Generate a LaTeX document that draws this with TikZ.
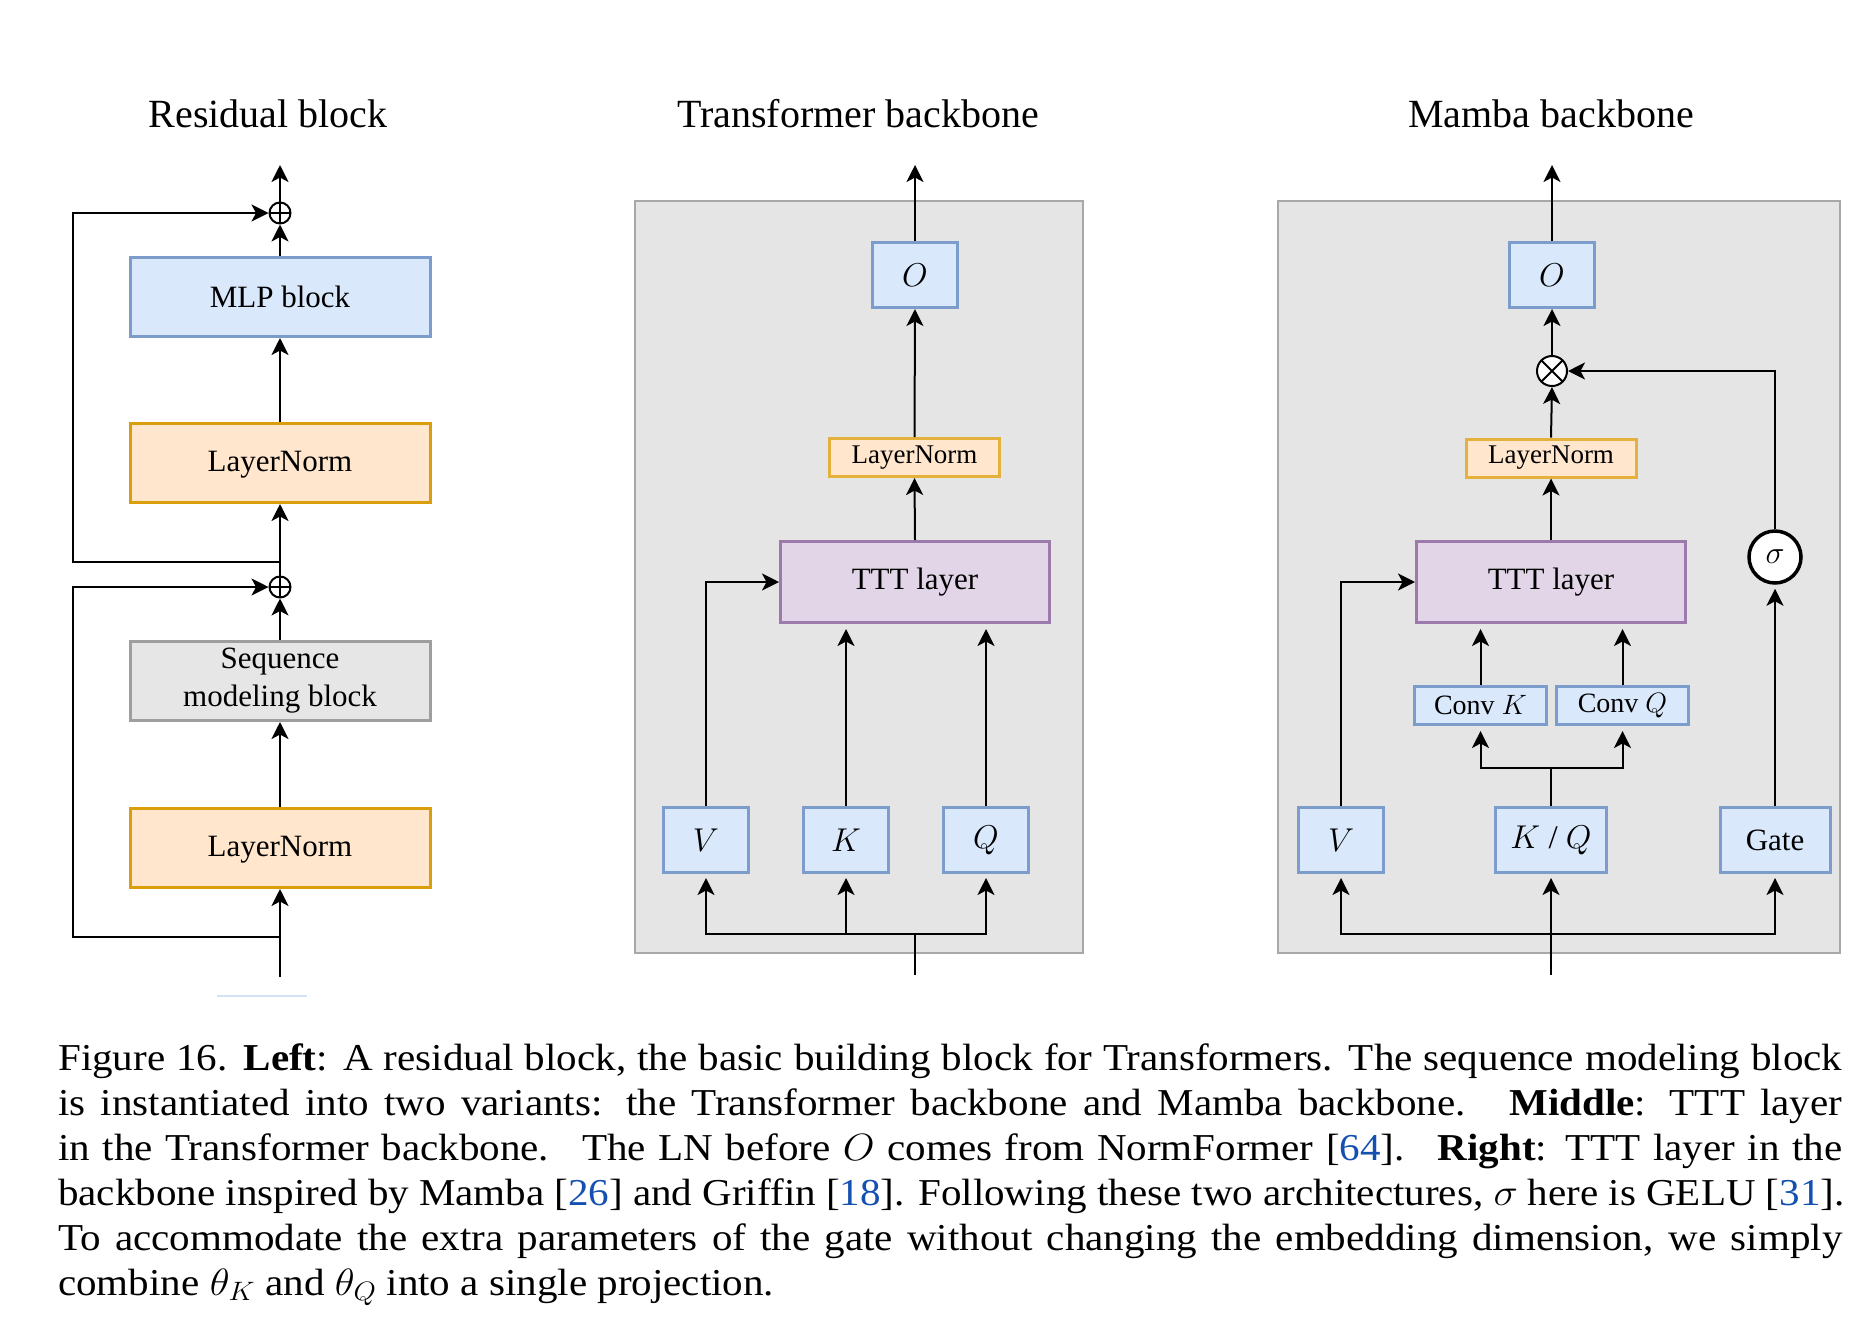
\RequirePackage{fix-cm}
\documentclass[tikz,border=0pt]{standalone}
\usepackage{fontspec}
\setmainfont{Liberation Serif}
\usetikzlibrary{arrows.meta,positioning,calc}
\definecolor{blueF}{HTML}{DAE8FC}
\definecolor{blueD}{HTML}{7C9CCB}
\definecolor{orangeF}{HTML}{FFE6CC}
\definecolor{orangeD}{HTML}{D99E0A}
\definecolor{orangeS}{HTML}{E4B23C}
\definecolor{purpleF}{HTML}{E1D5E7}
\definecolor{purpleD}{HTML}{9C7AAC}
\definecolor{seqF}{HTML}{E6E6E6}
\definecolor{seqD}{HTML}{9E9E9E}
\definecolor{panelF}{HTML}{E5E5E5}
\definecolor{panelD}{HTML}{A8A8A8}
\definecolor{linkblue}{RGB}{20,80,175}
\definecolor{faintblue}{HTML}{D4E0F4}
\newcommand{\fs}[1]{\fontsize{#1}{#1}\selectfont}
\newcommand{\cit}[1]{[\textcolor{linkblue}{#1}]}
\newcommand{\capl}[1]{\scalebox{1.08}[1]{\hbox to 1652pt{#1}}}
\tikzset{
  box/.style={draw, line width=3pt, inner sep=0pt, align=center, font=\fs{31}},
  bluebox/.style={box, draw=blueD, fill=blueF},
  lnbig/.style={box, draw=orangeD, fill=orangeF, minimum width=300pt, minimum height=79pt, text height=21pt, text depth=4pt},
  lnsmall/.style={box, draw=orangeS, fill=orangeF, minimum width=170pt, minimum height=38pt, font=\fs{27}},
  tttbox/.style={box, draw=purpleD, fill=purpleF, minimum width=269pt, minimum height=81pt, font=\fs{31}},
  seqbox/.style={box, draw=seqD, fill=seqF, minimum width=300pt, minimum height=79pt},
  letterbox/.style={bluebox, minimum width=85pt, minimum height=65pt, font=\fs{33}},
  convbox/.style={bluebox, minimum width=132pt, minimum height=38pt, font=\fs{28}},
  plusnode/.style={circle, draw, line width=2pt, minimum size=21pt, inner sep=0pt,
    path picture={\draw[line width=2pt] (path picture bounding box.north) -- (path picture bounding box.south)
      (path picture bounding box.west) -- (path picture bounding box.east);}},
  timesnode/.style={circle, draw, fill=white, line width=2pt, minimum size=30pt, inner sep=0pt,
    path picture={\draw[line width=2pt] (path picture bounding box.north west) -- (path picture bounding box.south east)
      (path picture bounding box.south west) -- (path picture bounding box.north east);}},
  signode/.style={circle, draw, fill=white, line width=3.5pt, minimum size=52pt, inner sep=0pt, font=\fs{32}},
  conn/.style={line width=2pt, draw=black},
  arr/.style={conn, -{Stealth[length=17pt,width=17pt,inset=4.5pt]}},
  title/.style={font=\fs{40}, anchor=base, inner sep=0pt},
  panel/.style={draw=panelD, fill=panelF, line width=2pt},
  capline/.style={anchor=base west, inner sep=0pt, font=\fs{38}}
}
\begin{document}
\begin{tikzpicture}[x=1pt,y=-1pt]
\useasboundingbox (0,0) rectangle (1872,1326);

% ---------- Titles ----------
\node[title] (t1) at (268,127) {Residual block};
\node[title] (t2) at (858,127) {Transformer backbone};
\node[title] (t3) at (1551,127) {Mamba backbone};

% ---------- Residual block ----------
\node[bluebox, minimum width=300pt, minimum height=79pt] (mlp) at (280,297) {MLP block};
\node[lnbig] (ln1) at (280,463) {LayerNorm};
\node[seqbox, font=\fs{31}] (seq) at (280,681) {Sequence\\[7pt]modeling block};
\node[lnbig] (ln2) at (280,848) {LayerNorm};
\node[plusnode] (p1) at (280,213) {};
\node[plusnode] (p2) at (280,587) {};
\coordinate (rtop) at (280,165);
\coordinate (rin) at (280,977);
\coordinate (j1) at (280,562);
\coordinate (j2) at (280,937);
\coordinate (l1) at (73,562);
\coordinate (l1t) at (73,213);
\coordinate (l2) at (73,937);
\coordinate (l2t) at (73,587);

\draw[arr] (p1.north) -- (rtop);
\draw[arr] (mlp.north) -- (p1.south);
\draw[arr] (ln1.north) -- (mlp.south);
\draw[arr] (p2.north) -- (ln1.south);
\draw[arr] (seq.north) -- (p2.south);
\draw[arr] (ln2.north) -- (seq.south);
\draw[arr] (rin) -- (ln2.south);
\draw[arr] (j1) -- (l1) -- (l1t) -- (p1.west);
\draw[arr] (j2) -- (l2) -- (l2t) -- (p2.west);
\draw[faintblue, line width=1.5pt] (217,996) -- (307,996);

% ---------- Transformer backbone ----------
\draw[panel] (635,201) rectangle (1083,953);
\node[letterbox] (tO) at (915,275) {$O$};
\node[lnsmall] (tLN) at (914.5,457.5) {LayerNorm};
\node[tttbox] (tT) at (915,582) {TTT layer};
\node[letterbox] (tV) at (706,840) {$V$};
\node[letterbox] (tK) at (846,840) {$K$};
\node[letterbox] (tQ) at (986,840) {$Q$};
\coordinate (ttop) at (915,165);
\coordinate (tin) at (915,975);
\coordinate (tbus) at (915,934);

\draw[arr] (tO.north) -- (ttop);
\draw[arr] (tLN.north) -- (tO.south);
\draw[arr] (tT.north) -- (tLN.south);
\draw[arr] (tV.north) |- (tT.west);
\draw[arr, shorten >=5pt] (tK.north) -- (tK.north |- tT.south);
\draw[arr, shorten >=5pt] (tQ.north) -- (tQ.north |- tT.south);
\draw[conn] (tin) -- (tbus);
\draw[arr, shorten >=4pt] (tbus) -| (tV.south);
\draw[arr, shorten >=4pt] (tbus -| tK.south) -- (tK.south);
\draw[arr, shorten >=4pt] (tbus) -| (tQ.south);

% ---------- Mamba backbone ----------
\draw[panel] (1278,201) rectangle (1840,953);
\node[letterbox] (mO) at (1552,275) {$O$};
\node[timesnode] (mX) at (1552,371) {};
\node[lnsmall] (mLN) at (1551,458) {LayerNorm};
\node[tttbox] (mT) at (1551,582) {TTT layer};
\node[convbox] (cK) at (1480.5,705.5) {Conv $K$};
\node[convbox] (cQ) at (1622.5,705.5) {Conv $Q$};
\node[letterbox] (mV) at (1341,840) {$V$};
\node[letterbox, minimum width=111pt] (mKQ) at (1551,840) {$K$ / $Q$};
\node[letterbox, minimum width=110pt, font=\fs{31}] (mG) at (1775,840) {Gate};
\node[signode] (sig) at (1775,557) {$\sigma$};
\coordinate (mtop) at (1552,165);
\coordinate (min) at (1551,975);
\coordinate (mbus) at (1551,934);
\coordinate (msplit) at (1551,768);

\draw[arr] (mO.north) -- (mtop);
\draw[arr] (mX.north) -- (mO.south);
\draw[arr] (mLN.north) -- (mX.south);
\draw[arr] (mT.north) -- (mLN.south);
\draw[arr] (sig.north) |- (mX.east);
\draw[arr] (mV.north) |- (mT.west);
\draw[arr, shorten >=5pt] (cK.north) -- (cK.north |- mT.south);
\draw[arr, shorten >=5pt] (cQ.north) -- (cQ.north |- mT.south);
\draw[conn] (mKQ.north) -- (msplit);
\draw[arr, shorten >=5pt] (msplit) -| (cK.south);
\draw[arr, shorten >=5pt] (msplit) -| (cQ.south);
\draw[arr, shorten >=4pt] (mG.north) -- (sig.south);
\draw[arr, shorten >=4pt] (min) -- (mKQ.south);
\draw[arr, shorten >=4pt] (mbus) -| (mV.south);
\draw[arr, shorten >=4pt] (mbus) -| (mG.south);

% ---------- Caption ----------
\node[capline] (c1) at (58,1070) {\capl{Figure 16. \textbf{Left}: A residual block, the basic building block for Transformers. The sequence modeling block}};
\node[capline] (c2) at (58,1115) {\capl{is instantiated into two variants: the Transformer backbone and Mamba backbone. \ \textbf{Middle}: TTT layer}};
\node[capline] (c3) at (58,1160) {\capl{in the Transformer backbone. \ The LN before $O$ comes from NormFormer \cit{64}. \ \textbf{Right}: TTT layer in the}};
\node[capline] (c4) at (58,1205) {\scalebox{1.08}[1]{\hbox to 1654pt{backbone inspired by Mamba \cit{26} and Griffin \cit{18}. Following these two architectures, $\sigma$ here is GELU \cit{31}.}}};
\node[capline] (c5) at (58,1250) {\capl{To accommodate the extra parameters of the gate without changing the embedding dimension, we simply}};
\node[capline] (c6) at (58,1295) {\scalebox{1.08}[1]{combine $\theta_K$ and $\theta_Q$ into a single projection.}};
\end{tikzpicture}
\end{document}
